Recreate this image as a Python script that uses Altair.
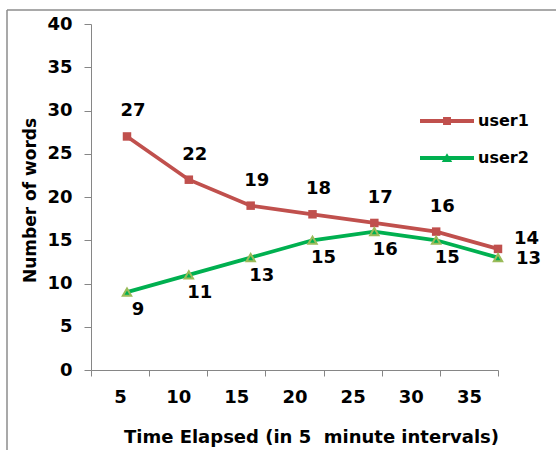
import altair as alt
import pandas as pd

times = [5, 10, 15, 20, 25, 30, 35]
user1 = [27, 22, 19, 18, 17, 16, 14]
user2 = [9, 11, 13, 15, 16, 15, 13]
series_names = ["user1", "user2"]
colors = ["#C0504D", "#00B050"]
y_ticks = [0, 5, 10, 15, 20, 25, 30, 35, 40]

rows = []
for t, a, b in zip(times, user1, user2):
    rows.append({"time": t, "series": "user1", "words": a})
    rows.append({"time": t, "series": "user2", "words": b})
df = pd.DataFrame(rows)

FONT = "DejaVu Sans"
AXIS_GRAY = "#868686"

xq = alt.X("time:Q", scale=alt.Scale(domain=[5, 35], range=[36, 407], nice=False, zero=False), axis=None)
yq = alt.Y(
    "words:Q",
    scale=alt.Scale(domain=[0, 40], nice=False),
    axis=alt.Axis(
        values=y_ticks, title="Number of words", grid=False,
        domainColor=AXIS_GRAY, tickColor=AXIS_GRAY, tickSize=7,
        labelPadding=12, labelFont=FONT, labelFontSize=18, labelFontWeight="bold", labelColor="black",
        titleFont=FONT, titleFontSize=17, titleFontWeight="bold", titleColor="black",
        titleX=-61, titleY=176, titleAngle=270, titleAlign="center", titleBaseline="middle",
    ),
)

# Category axis (band scale, ticks at band edges)
axis_layer = alt.Chart(df).mark_bar(opacity=0).encode(
    x=alt.X(
        "time:O",
        sort=times,
        scale=alt.Scale(type="band", paddingInner=0, paddingOuter=0),
        axis=alt.Axis(
            title="Time Elapsed (in 5\u00a0 minute intervals)", labelAngle=0, tickBand="extent",
            domainColor=AXIS_GRAY, tickColor=AXIS_GRAY, tickSize=6, grid=False,
            labelPadding=21, labelBaseline="middle", labelFont=FONT, labelFontSize=18,
            labelFontWeight="bold", labelColor="black",
            titleFont=FONT, titleFontSize=18, titleFontWeight="bold", titleColor="black",
            titleX=220, titleY=67, titleAlign="center", titleBaseline="middle",
        ),
    )
)

p1 = "M-1.5,-0.11L1.5,-0.11L1.5,0.11L-1.5,0.11Z M-0.22,-0.22L0.22,-0.22L0.22,0.22L-0.22,0.22Z"
p2 = "M-1.5,-0.11L1.5,-0.11L1.5,0.11L-1.5,0.11Z M0,-0.27L0.29,0.22L-0.29,0.22Z"

line1 = alt.Chart(df).transform_filter("datum.series === 'user1'").mark_line(
    strokeWidth=3.8, color=colors[0]
).encode(x=xq, y=yq)
line2 = alt.Chart(df).transform_filter("datum.series === 'user2'").mark_line(
    strokeWidth=3.8, color=colors[1]
).encode(x=xq, y=yq)

leg = alt.Legend(
    title=None, orient="none", legendX=338, legendY=79, padding=0,
    symbolSize=1296, symbolOpacity=1, symbolStrokeWidth=0, labelOffset=13, rowPadding=11,
    labelFont=FONT, labelFontSize=16, labelFontWeight="bold", labelColor="black",
)

# invisible layer that only carries the legend
legend_layer = alt.Chart(df).mark_point(filled=True, opacity=0, size=1296).encode(
    x=xq,
    y=yq,
    color=alt.Color("series:N", scale=alt.Scale(domain=series_names, range=colors), legend=leg),
    shape=alt.Shape("series:N", scale=alt.Scale(domain=series_names, range=[p1, p2]), legend=leg),
)

pts1 = alt.Chart(df).transform_filter("datum.series === 'user1'").mark_point(
    shape="square", filled=True, color="#C0504D", size=72, opacity=1
).encode(x=xq, y=yq)

pts2 = alt.Chart(df).transform_filter("datum.series === 'user2'").mark_point(
    shape="triangle-up", filled=True, fill="#00B050", stroke="#9BBB59", strokeWidth=2, size=70, opacity=1
).encode(x=xq, y=yq)

txt_style = dict(font=FONT, fontSize=18, fontWeight="bold", color="black", baseline="middle")

t1 = alt.Chart(df).transform_filter("datum.series === 'user1' && datum.time < 35").mark_text(
    align="center", dx=6, dy=-25, **txt_style
).encode(x=xq, y=yq, text="words:Q")
t1e = alt.Chart(df).transform_filter("datum.series === 'user1' && datum.time === 35").mark_text(
    align="left", dx=16, dy=-10, **txt_style
).encode(x=xq, y=yq, text="words:Q")
t2 = alt.Chart(df).transform_filter("datum.series === 'user2' && datum.time < 35").mark_text(
    align="center", dx=11, dy=18, **txt_style
).encode(x=xq, y=yq, text="words:Q")
t2e = alt.Chart(df).transform_filter("datum.series === 'user2' && datum.time === 35").mark_text(
    align="left", dx=18, dy=1, **txt_style
).encode(x=xq, y=yq, text="words:Q")

frame_data = alt.Data(values=[{"k": 1}])
frame_left = alt.Chart(frame_data).mark_rule(color="#8C8C8C", strokeWidth=1.5).encode(
    x=alt.value(-84), y=alt.value(-14), y2=alt.value(440)
)
frame_top = alt.Chart(frame_data).mark_rule(color="#8C8C8C", strokeWidth=1.5).encode(
    x=alt.value(-84), x2=alt.value(480), y=alt.value(-14)
)

data_layers = alt.layer(line1, line2, legend_layer, pts1, pts2, t1, t1e, t2, t2e)

chart = alt.layer(axis_layer, data_layers, frame_left, frame_top).resolve_scale(
    x="independent"
).properties(
    width=407, height=346,
    autosize=alt.AutoSizeParams(type="none"),
    padding={"left": 91, "top": 24, "right": 58, "bottom": 80},
).configure_view(stroke=None)

chart.save("out.html", embed_options={"renderer": "svg", "actions": False})
